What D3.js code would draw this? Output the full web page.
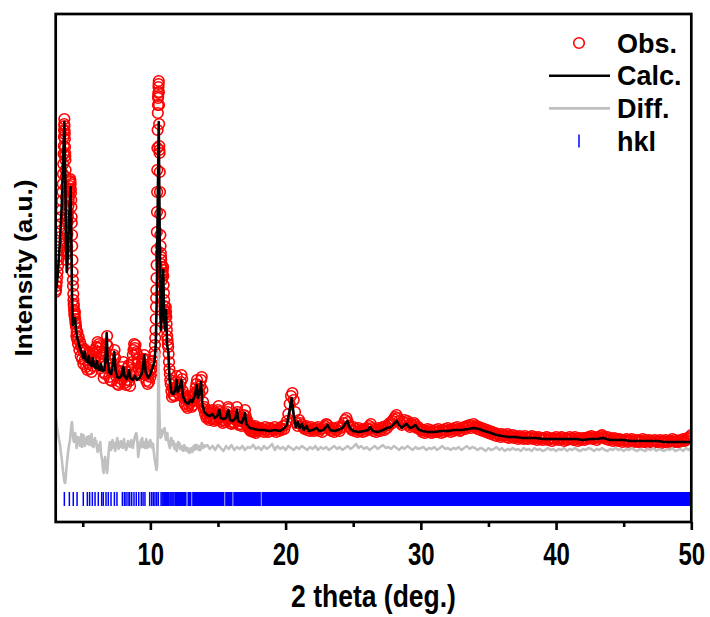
<!DOCTYPE html>
<html>
<head>
<meta charset="utf-8">
<script src="https://cdn.jsdelivr.net/npm/d3@7"></script>
<style>
  body { margin: 0; background: #fff; }
  text { font-family: Arial, "Liberation Sans", sans-serif; font-weight: bold; fill: #000; }
</style>
</head>
<body>
<div id="chart"></div>
<script>
// calculated profile [2theta, intensity a.u.]
var calcData = [
  [3.0,229],[3.15,247],[3.3,277],[3.45,317],[3.55,362],[3.64,400],[3.7,352],[3.76,282],[3.82,250],[3.9,267],
  [3.98,297],[4.05,322],[4.1,335],[4.15,292],[4.2,232],[4.26,197],[4.34,200],[4.43,204],[4.5,192],[4.6,184],
  [4.75,176],[4.9,170],[5.05,164],[5.15,170],[5.22,162],[5.35,160],[5.45,166],[5.52,158],[5.65,156],[5.75,164],
  [5.82,156],[5.95,154],[6.05,161],[6.12,153],[6.25,152],[6.35,158],[6.45,151],[6.6,152],[6.7,167],[6.77,189],
  [6.84,162],[6.95,150],[7.1,148],[7.25,160],[7.33,170],[7.42,152],[7.55,145],[7.7,144],[7.85,146],[8.0,155],
  [8.08,146],[8.25,143],[8.42,152],[8.5,144],[8.7,142],[8.85,146],[9.0,142],[9.2,144],[9.35,148],[9.45,154],
  [9.55,167],[9.65,150],[9.85,144],[10.0,148],[10.15,154],[10.3,160],[10.4,177],[10.47,222],[10.55,322],[10.62,400],
  [10.7,272],[10.78,192],[10.88,222],[10.95,252],[11.02,202],[11.1,192],[11.16,212],[11.24,177],[11.33,170],[11.42,142],
  [11.55,130],[11.7,128],[11.85,132],[11.94,142],[12.02,130],[12.15,134],[12.3,142],[12.4,126],[12.6,120],[12.8,118],
  [12.95,122],[13.1,120],[13.3,127],[13.43,137],[13.52,124],[13.65,130],[13.75,140],[13.85,117],[14.0,110],[14.2,107],
  [14.4,106],[14.6,108],[14.75,104],[14.95,106],[15.1,112],[15.2,104],[15.4,103],[15.6,104],[15.77,112],[15.9,102],
  [16.1,101],[16.3,104],[16.4,112],[16.5,101],[16.75,99],[16.9,104],[17.0,109],[17.1,98],[17.35,94],[17.7,93],
  [18.0,92],[18.4,92],[18.8,91],[19.2,92],[19.6,91],[19.9,94],[20.1,97],[20.3,112],[20.45,124],[20.6,107],
  [20.75,95],[20.9,100],[21.05,94],[21.2,98],[21.35,92],[21.55,96],[21.7,91],[22.0,92],[22.3,94],[22.5,91],
  [22.8,92],[23.1,97],[23.3,92],[23.6,91],[23.9,92],[24.2,94],[24.4,98],[24.56,101],[24.75,94],[25.0,91],
  [25.4,90],[25.8,91],[26.1,92],[26.25,95],[26.45,91],[26.8,90],[27.2,92],[27.5,94],[27.8,95],[28.0,98],
  [28.2,101],[28.4,97],[28.6,94],[28.8,97],[28.96,98],[29.2,94],[29.4,95],[29.6,97],[29.8,93],[30.1,91],
  [30.5,90],[31.0,90],[31.5,91],[32.0,91],[32.5,92],[33.0,92],[33.5,93],[33.9,94],[34.3,93],[34.7,91],
  [35.2,89],[35.6,87],[36.0,86],[36.5,85],[37.0,85],[37.5,84],[38.0,84],[38.5,84],[39.0,83],[39.5,83],
  [40.0,83],[40.5,83],[41.0,83],[41.5,83],[42.0,82],[42.5,83],[43.0,83],[43.5,84],[44.0,82],[44.5,82],
  [45.0,82],[45.5,81],[46.0,81],[46.5,81],[47.0,81],[47.5,81],[48.0,80],[48.5,80],[49.0,80],[49.5,80],[50.0,80]
];

// observed: first two low-angle peaks, [2theta, intensity]
var obsPeakA = [
  [3.0,230],[3.02,232],[3.05,236],[3.08,240],[3.11,245],[3.14,250],[3.17,256],[3.2,262],[3.23,266],[3.26,272],
  [3.29,279],[3.32,285],[3.35,291],[3.38,298],[3.41,305],[3.44,312],[3.47,321],[3.5,330],[3.52,338],[3.54,348],
  [3.56,358],[3.58,368],[3.6,376],[3.61,385],[3.62,392],[3.63,398],[3.64,403],[3.65,396],[3.66,391],[3.67,388],
  [3.68,383],[3.69,375],[3.7,369],[3.71,366],[3.72,362],[3.73,352],[3.74,345],[3.75,335],[3.76,325],[3.775,303],
  [3.79,280],[3.805,270],[3.82,262],[3.835,268],[3.85,275],[3.865,288],[3.88,300],[3.9,305],[3.92,310],[3.94,316],
  [3.96,322],[3.98,326],[4.0,330],[4.02,333],[4.04,336],[4.06,340],[4.07,343],[4.09,341],[4.1,338],[4.12,333],
  [4.13,329],[4.15,322],[4.16,315],[4.18,305],[4.19,299],[4.21,287],[4.22,276],[4.24,262],[4.25,250],[4.27,242],
  [4.28,236],[4.3,228],[4.31,222],[4.33,218],[4.34,216],[4.36,212],[4.38,208],[4.4,206],[4.42,210],[4.44,203],
  [4.46,200],[4.48,198],[4.5,195],[4.53,186],[4.55,190],[4.58,183]
];
// observed step scan 4.60-10.30 deg, step 0.05
var obsScanA = {start: 4.6, step: 0.05, counts: [
  190,178,185,172,180,166,176,163,172,158,
  173,162,170,155,166,152,168,158,170,153,
  163,150,166,156,169,161,172,164,175,170,
  180,174,178,170,176,165,168,158,150,144,
  156,148,170,178,186,176,164,145,154,142,
  153,141,158,150,167,172,164,146,152,138,
  149,137,146,140,151,143,155,149,160,146,
  139,148,137,150,142,155,157,141,136,147,
  152,160,167,172,178,174,177,170,168,163,
  160,152,147,155,149,158,152,163,158,167,
  163,150,141,148,138,146,140,151,145,152,
  158,150,161,155,166
]};
// observed: strongest peak near 10.6 deg
var obsPeakB = [
  [10.32,170],[10.34,177],[10.36,184],[10.38,192],[10.4,203],[10.42,215],[10.43,224],[10.44,232],[10.45,244],[10.46,257],
  [10.47,272],[10.48,290],[10.49,310],[10.5,330],[10.51,352],[10.52,374],[10.535,392],[10.55,409],[10.56,417],[10.57,424],
  [10.58,426],[10.59,429],[10.6,435],[10.61,438],[10.62,441],[10.63,430],[10.64,417],[10.65,398],[10.66,376],[10.67,372],
  [10.68,369],[10.695,350],[10.71,330],[10.725,308],[10.74,287],[10.755,276],[10.77,269],[10.785,265],[10.8,262],[10.815,258],
  [10.83,255],[10.845,248],[10.86,242],[10.88,246],[10.9,249],[10.92,252],[10.94,255],[10.96,246],[10.98,237],[11.0,229],
  [11.02,222],[11.04,216],[11.06,212],[11.08,208],[11.1,204],[11.12,210],[11.14,215],[11.16,210],[11.18,205],[11.2,198],
  [11.22,192],[11.245,186],[11.27,182],[11.295,178],[11.32,175],[11.35,168],[11.38,160],[11.41,153],[11.44,148],[11.47,142]
];
// observed step scan 11.50-18.00 deg, step 0.05
var obsScanB = {start: 11.5, step: 0.05, counts: [
  138,131,125,134,127,132,126,135,140,146,
  136,129,133,127,136,140,147,143,131,124,
  127,118,125,116,123,114,121,117,126,119,
  124,115,122,117,125,121,129,134,138,142,
  131,126,133,128,136,142,145,132,120,113,
  115,108,112,104,110,105,109,102,111,104,
  109,103,112,105,101,107,103,109,102,108,
  112,116,110,104,108,101,105,99,107,102,
  106,100,108,103,110,115,113,104,99,105,
  98,104,100,106,99,105,102,108,115,110,
  101,97,104,98,102,96,104,100,107,103,
  112,106,98,102,95,99,93,97,91,96,
  92,95,90,94,91,96,89,93,91,94,
  92
]};
// observed step scan 18.1-50.0 deg, step 0.1
var obsScanC = {start: 18.1, step: 0.1, counts: [
  94,91,93,90,95,92,90,94,91,93,  92,95,90,93,91,94,92,96,93,97,
  101,108,118,126,129,122,110,99,96,102,  99,97,95,93,96,92,94,91,95,93,
  91,94,92,95,91,93,90,94,96,98,  97,94,92,91,94,90,93,92,95,91,
  94,96,99,102,104,100,96,94,92,95,  91,93,90,94,91,92,90,93,91,94,
  93,96,98,94,91,93,90,92,94,91,  93,95,92,96,94,97,99,98,101,103,
  105,107,104,101,99,97,100,102,99,101,  97,95,98,96,99,97,94,95,93,92,
  90,92,89,91,93,90,92,89,91,90,  92,90,93,91,89,92,90,93,91,94,
  92,90,93,91,94,92,95,93,91,92,  94,95,93,96,95,97,94,96,98,95,
  96,93,95,92,94,91,93,90,92,89,  91,88,90,87,89,86,88,87,85,88,
  86,87,85,88,84,86,85,87,84,86,  85,83,86,84,85,83,86,84,83,85,
  84,86,83,85,84,82,85,83,84,82,  84,83,85,82,84,83,81,84,83,85,
  83,82,84,85,83,81,84,82,83,85,  83,84,82,85,83,81,84,82,83,84,
  82,84,83,85,84,86,83,85,84,82,  85,84,86,87,85,84,83,85,82,84,
  83,81,84,82,83,81,83,82,80,82,  81,83,80,82,81,83,80,82,81,80,
  82,80,81,83,80,82,81,79,82,80,  81,79,82,80,81,80,82,79,81,80,
  82,80,81,79,81,83,80,82,80,81,  80,82,81,83,81,82,84,83,85,87
]};

// difference curve (plotted with offset), step scans
var diffScanLow = {start: 3.0, step: 0.05, counts: [
  106,100,94,90,86,82,79,74,68,63,
  56,50,45,40,39,46,55,62,68,73,
  78,81,88,95,100,92,83,80,86,89,
  82,74,79,85,80,84,76,82,88,75,
  80,87,81,76,83,79,85,78,82,86,
  77,83,79,88,76,82,75,80,84,78,
  81,74,70,77,72,75,80,68,65,60,
  52,49,58,65,60,54,49,56,67,75,
  80,76,72,78,82,77,74,79,71,76,
  80,84,79,73,77,75,81,78,80,74,
  79,83,75,78,72,74,78,81,76,79,
  75,80,82,77,74,78,81,85,87,89,
  86,78,65,70,79,74,82,77,84,75,
  80,77,74,79,83,74,78,80,75,77,
  82,76,79,74,78,71,65,60,56,52,
  56,90,170,120,96,84,90,86,92,89,
  92,94,88,82,86,89,84,79,76,74,
  80,84,79,77,81,75,73,78,75,71,
  76,80,77,79,73,74,76,72,75,71,
  77,73,75,72,71,74,70,72,69,73,
  74,71,70,73,76,72,77,75,73,77,
  73,75,72,76,72,74,79,76,74,77,
  75
]};
var diffScanHigh = {start: 14.2, step: 0.2, counts: [
  77,73,76,72,77,74,71,76,73,77,  72,75,73,76,72,75,74,77,73,75,
  72,76,73,75,78,72,76,73,75,72,  76,74,72,75,73,76,74,72,75,73,
  76,72,75,73,75,72,74,76,73,75,  72,74,76,73,75,78,74,76,73,75,
  72,74,76,73,75,77,74,75,73,76,  74,72,75,73,76,74,72,75,73,74,
  75,72,74,73,75,72,74,76,73,74,  72,74,73,75,72,74,76,73,75,74,
  72,74,73,71,74,72,73,75,72,74,  71,73,72,74,72,73,71,74,72,73,
  71,74,72,73,71,72,74,72,73,71,  73,72,74,71,73,72,74,72,71,73,
  72,74,73,71,73,72,74,72,71,73,  72,74,72,73,71,73,72,74,72,71,
  73,72,71,73,72,74,71,73,72,71,  73,72,74,71,72,73,71,74,72,74
]};

// Bragg reflection positions (2theta)
var hklPos = [
  3.64, 4.01, 4.30, 4.58, 5.04, 5.34, 5.51, 5.71, 5.91, 6.15, 6.40, 6.52, 6.72, 6.89, 7.09, 7.34, 7.53,
  7.93, 8.08, 8.20, 8.35, 8.47, 8.62, 8.79, 8.96, 9.14, 9.33, 9.46, 9.60, 9.95, 10.10, 10.22, 10.34, 10.47,
  10.59, 10.79, 10.87, 10.95, 11.04, 11.12, 11.20, 11.27, 11.36, 11.45, 11.52, 11.60, 11.67, 11.75
];
// ranges where reflections overlap into a solid block
var hklBands = [[11.8, 12.68], [12.74, 13.04], [13.09, 15.48], [15.53, 16.08], [16.13, 18.17], [18.22, 50]];

var xTicks = [10, 20, 30, 40, 50];
var xMinorTicks = [5, 15, 25, 35, 45];
var legendLabels = ["Obs.", "Calc.", "Diff.", "hkl"];

// step scan -> [2theta, value] pairs
function scanPoints(scan) {
  return scan.counts.map(function (c, i) {
    return [+(scan.start + i * scan.step).toFixed(3), c];
  });
}

var obsData = obsPeakA
  .concat(scanPoints(obsScanA), obsPeakB, scanPoints(obsScanB), scanPoints(obsScanC));
var diffData = scanPoints(diffScanLow).concat(scanPoints(diffScanHigh));

var width = 710, height = 617;
var margin = {top: 14, right: 18.7, bottom: 95, left: 55.7};

var x = d3.scaleLinear().domain([3, 50]).range([margin.left, width - margin.right]);
var y = d3.scaleLinear().domain([0, 508]).range([height - margin.bottom, margin.top]);

var svg = d3.select("#chart").append("svg")
  .attr("width", width)
  .attr("height", height);

svg.append("clipPath").attr("id", "plot-clip")
  .append("rect")
  .attr("x", margin.left).attr("y", margin.top)
  .attr("width", x.range()[1] - margin.left)
  .attr("height", y.range()[0] - margin.top);

var plot = svg.append("g").attr("clip-path", "url(#plot-clip)");

// observed
plot.append("g")
  .selectAll("circle")
  .data(obsData)
  .join("circle")
  .attr("cx", function (d) { return x(d[0]); })
  .attr("cy", function (d) { return y(d[1]); })
  .attr("r", 5.3)
  .attr("fill", "none")
  .attr("stroke", "#ff0000")
  .attr("stroke-width", 1.6);

var line = d3.line()
  .x(function (d) { return x(d[0]); })
  .y(function (d) { return y(d[1]); });

// calculated
plot.append("path")
  .datum(calcData)
  .attr("d", line)
  .attr("fill", "none")
  .attr("stroke", "#000")
  .attr("stroke-width", 2.6)
  .attr("stroke-linejoin", "round");

// difference
plot.append("path")
  .datum(diffData)
  .attr("d", line)
  .attr("fill", "none")
  .attr("stroke", "#c0c0c0")
  .attr("stroke-width", 2.6)
  .attr("stroke-linejoin", "round");

// hkl markers
var hklTop = y(30), hklBottom = y(16);
plot.append("g")
  .selectAll("line")
  .data(hklPos)
  .join("line")
  .attr("x1", function (d) { return x(d); })
  .attr("x2", function (d) { return x(d); })
  .attr("y1", hklTop)
  .attr("y2", hklBottom)
  .attr("stroke", "#0000ff")
  .attr("stroke-width", 1.5);

plot.append("g")
  .selectAll("rect")
  .data(hklBands)
  .join("rect")
  .attr("x", function (d) { return x(d[0]); })
  .attr("width", function (d) { return x(d[1]) - x(d[0]); })
  .attr("y", hklTop)
  .attr("height", hklBottom - hklTop)
  .attr("fill", "#0000ff");

// frame
svg.append("rect")
  .attr("x", margin.left)
  .attr("y", margin.top)
  .attr("width", x.range()[1] - margin.left)
  .attr("height", y.range()[0] - margin.top)
  .attr("fill", "none")
  .attr("stroke", "#000")
  .attr("stroke-width", 2.7);

// x axis ticks
var xAxis = svg.append("g")
  .attr("transform", "translate(0," + y.range()[0] + ")")
  .call(d3.axisBottom(x).tickValues(xTicks).tickSize(8).tickFormat(""));
xAxis.select(".domain").remove();
xAxis.selectAll(".tick line").attr("stroke-width", 2.6);
// tick labels, drawn a little taller than wide like the original
xAxis.selectAll(".tick")
  .append("text")
  .attr("transform", "translate(0,43) scale(1,1.3)")
  .attr("text-anchor", "middle")
  .attr("font-size", 24)
  .text(function (d) { return d; });

var xMinor = svg.append("g")
  .attr("transform", "translate(0," + y.range()[0] + ")")
  .call(d3.axisBottom(x).tickValues(xMinorTicks).tickSize(5).tickFormat(""));
xMinor.select(".domain").remove();
xMinor.selectAll(".tick line").attr("stroke-width", 2.6);

// axis titles
svg.append("text")
  .attr("transform", "translate(" + (margin.left + x.range()[1]) / 2 + ",607) scale(1,1.15)")
  .attr("text-anchor", "middle")
  .attr("font-size", 26.5)
  .text("2 theta (deg.)");

svg.append("text")
  .attr("transform", "translate(32," + (margin.top + y.range()[0]) / 2 + ") rotate(-90)")
  .attr("text-anchor", "middle")
  .attr("font-size", 23)
  .attr("textLength", 177)
  .attr("lengthAdjust", "spacingAndGlyphs")
  .text("Intensity (a.u.)");

// legend
var legend = svg.append("g").attr("transform", "translate(549,43)");
var rowGap = 32.7;
var rows = legend.selectAll("g")
  .data(legendLabels)
  .join("g")
  .attr("transform", function (d, i) { return "translate(0," + i * rowGap + ")"; });

rows.append("text")
  .attr("x", 68)
  .attr("dy", "0.36em")
  .attr("font-size", 27)
  .text(function (d) { return d; });

rows.filter(function (d, i) { return i === 0; })
  .append("circle")
  .attr("cx", 30).attr("r", 5.3)
  .attr("fill", "none").attr("stroke", "#ff0000").attr("stroke-width", 1.6);

rows.filter(function (d, i) { return i === 1 || i === 2; })
  .append("line")
  .attr("x1", 0).attr("x2", 61)
  .attr("stroke", function (d, i) { return i === 0 ? "#000" : "#c0c0c0"; })
  .attr("stroke-width", 2.6);

rows.filter(function (d, i) { return i === 3; })
  .append("line")
  .attr("x1", 30).attr("x2", 30)
  .attr("y1", -6.5).attr("y2", 6.5)
  .attr("stroke", "#0000ff").attr("stroke-width", 1.5);
</script>
</body>
</html>
